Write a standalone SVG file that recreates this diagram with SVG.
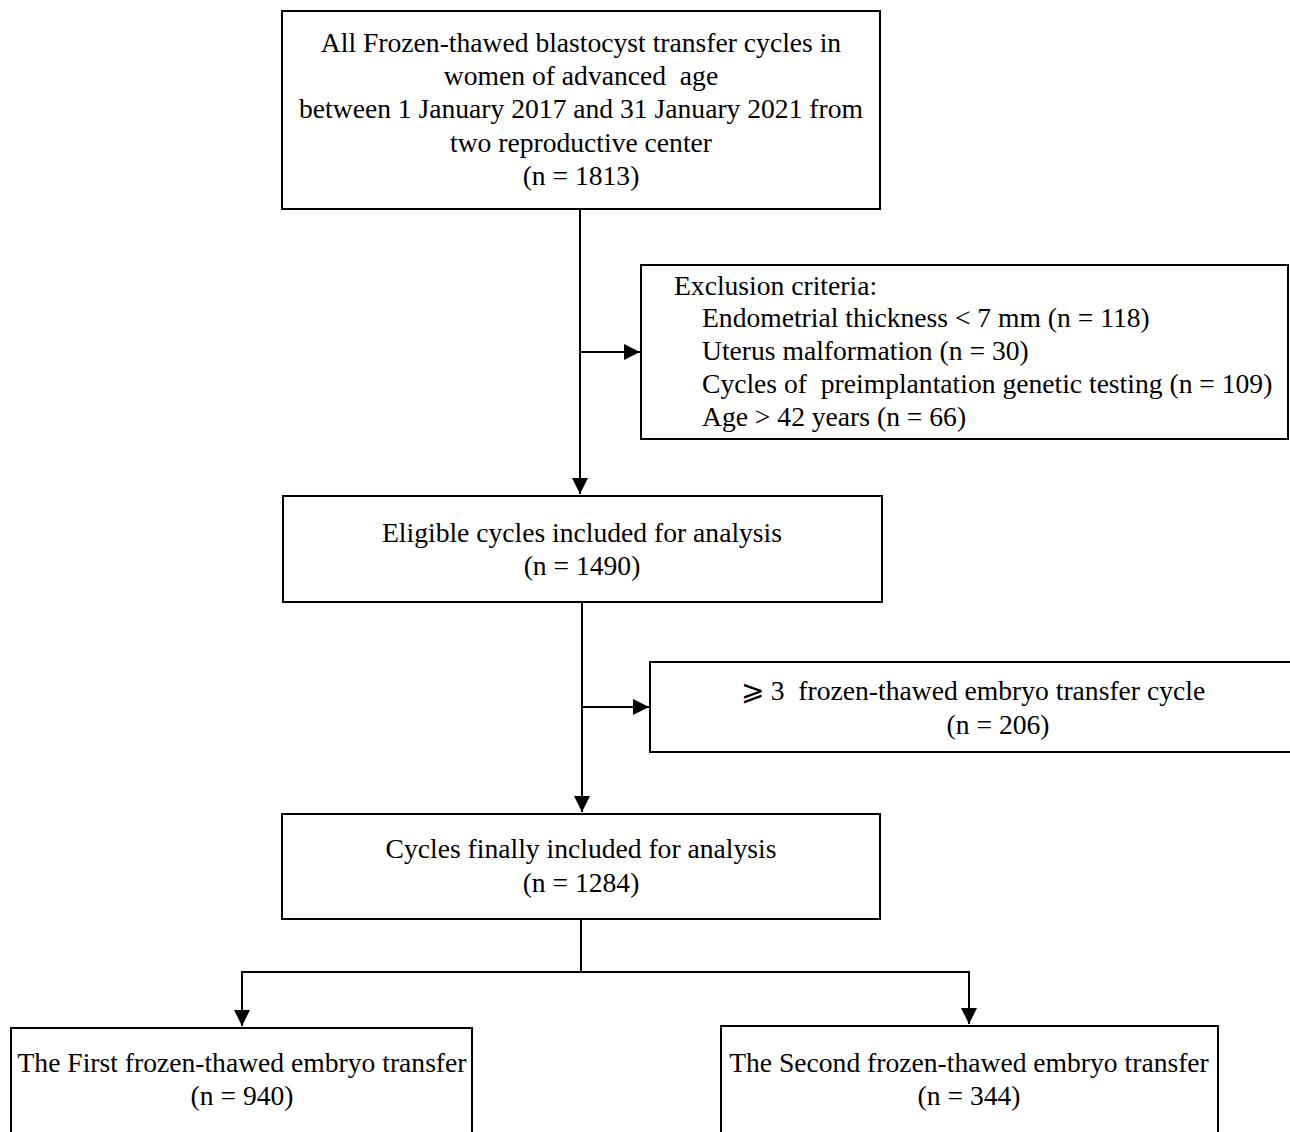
<svg xmlns="http://www.w3.org/2000/svg" width="1290" height="1132" viewBox="0 0 1290 1132">
<style>
.box{fill:#fff;stroke:#000;stroke-width:2}
.t{font-family:"Liberation Serif","Times New Roman",serif;font-size:27.6px;fill:#000;white-space:pre}
.c{text-anchor:middle}
.ln{fill:none;stroke:#000;stroke-width:2}
</style>
<defs>
<marker id="ahb" viewBox="0 0 10 10" refX="10" refY="5" markerWidth="16" markerHeight="16" markerUnits="userSpaceOnUse" orient="auto">
<path d="M0,0 L10,5 L0,10 Z" fill="#000"/>
</marker>
</defs>
<rect width="1290" height="1132" fill="#fff"/>
<g id="connectors">
<line class="ln" x1="580" y1="209" x2="580" y2="494" marker-end="url(#ahb)"/>
<line class="ln" x1="580" y1="352" x2="640" y2="352" marker-end="url(#ahb)"/>
<line class="ln" x1="582" y1="602" x2="582" y2="812" marker-end="url(#ahb)"/>
<line class="ln" x1="582" y1="707" x2="649" y2="707" marker-end="url(#ahb)"/>
<polyline class="ln" points="581,919 581,972 242,972 242,1026" marker-end="url(#ahb)"/>
<polyline class="ln" points="581,972 969,972 969,1024" marker-end="url(#ahb)"/>
</g>
<g id="n1">
<rect class="box" x="282" y="11" width="598" height="198"/>
<text class="t c" x="581" y="52">All Frozen-thawed blastocyst transfer cycles in</text>
<text class="t c" x="581" y="85">women of advanced  age</text>
<text class="t c" x="581" y="118">between 1 January 2017 and 31 January 2021 from</text>
<text class="t c" x="581" y="152">two reproductive center</text>
<text class="t c" x="581" y="185">(n = 1813)</text>
</g>
<g id="n2">
<rect class="box" x="641" y="265" width="647" height="174"/>
<text class="t" x="674" y="295">Exclusion criteria:</text>
<text class="t" x="702" y="327">Endometrial thickness &lt; 7 mm (n = 118)</text>
<text class="t" x="702" y="360">Uterus malformation (n = 30)</text>
<text class="t" x="702" y="393">Cycles of  preimplantation genetic testing (n = 109)</text>
<text class="t" x="702" y="426">Age &gt; 42 years (n = 66)</text>
</g>
<g id="n3">
<rect class="box" x="283" y="496" width="599" height="106"/>
<text class="t c" x="582" y="542">Eligible cycles included for analysis</text>
<text class="t c" x="582" y="575">(n = 1490)</text>
</g>
<g id="n4">
<rect class="box" x="650" y="662" width="645" height="90"/>
<text class="t c" x="973" y="700">⩾ 3  frozen-thawed embryo transfer cycle</text>
<text class="t c" x="998" y="734">(n = 206)</text>
</g>
<g id="n5">
<rect class="box" x="282" y="814" width="598" height="105"/>
<text class="t c" x="581" y="858">Cycles finally included for analysis</text>
<text class="t c" x="581" y="892">(n = 1284)</text>
</g>
<g id="n6">
<rect class="box" x="11" y="1028" width="461" height="110"/>
<text class="t c" x="242" y="1072">The First frozen-thawed embryo transfer</text>
<text class="t c" x="242" y="1105">(n = 940)</text>
</g>
<g id="n7">
<rect class="box" x="721" y="1026" width="497" height="112"/>
<text class="t c" x="969" y="1072">The Second frozen-thawed embryo transfer</text>
<text class="t c" x="969" y="1105">(n = 344)</text>
</g>
</svg>
